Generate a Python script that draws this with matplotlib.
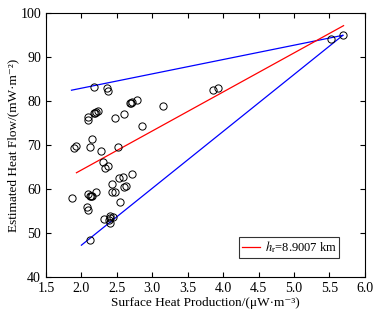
import matplotlib
matplotlib.use('Agg')
import matplotlib.pyplot as plt
import numpy as np

plt.rcParams['font.family'] = ['Liberation Serif', 'DejaVu Serif']
plt.rcParams['mathtext.fontset'] = 'stix'

# surface heat production (uW/m3) vs estimated heat flow (mW/m2)
hp = [2.18, 2.36, 2.38, 2.09, 2.09, 2.18, 2.21, 2.24, 2.19, 2.47, 2.60,
      2.70, 2.71, 2.69, 2.78, 2.85, 3.15, 1.90, 1.92, 2.15, 2.12, 2.28,
      2.51, 3.86, 3.93, 5.52, 5.69,
      2.30, 2.37, 2.34, 2.53, 2.59, 2.71, 2.43, 2.60, 2.63, 2.43, 2.48,
      2.21, 2.10, 2.13, 2.15, 2.12, 1.87, 2.54, 2.08, 2.10, 2.32, 2.39,
      2.41, 2.40, 2.44, 2.41, 2.12]
q = [83.3, 83.1, 82.4, 76.3, 75.7, 77.2, 77.5, 77.7, 77.4, 76.1, 77.0,
     79.6, 79.8, 79.5, 80.3, 74.3, 78.9, 69.3, 69.9, 71.4, 69.5, 68.6,
     69.6, 82.5, 82.9, 94.2, 95.1,
     66.1, 65.3, 64.7, 62.6, 62.8, 63.3, 61.2, 60.4, 60.7, 59.4, 59.4,
     59.4, 58.8, 58.4, 58.4, 58.4, 58.0, 57.0, 55.9, 55.1, 53.2, 52.9,
     53.8, 53.4, 53.7, 52.3, 48.4]

# bounding lines and fit
upper_x = [1.86, 5.69]
upper_y = [82.5, 95.0]
lower_x = [2.00, 5.69]
lower_y = [47.2, 95.0]
fit_x = [1.93, 5.70]
fit_y = [63.7, 97.2]

fig = plt.figure(figsize=(3.8, 3.11), dpi=100)
ax = fig.add_axes([0.121, 0.110, 0.839, 0.847])

ax.plot(upper_x, upper_y, color='#0000ff', lw=0.9)
ax.plot(lower_x, lower_y, color='#0000ff', lw=0.9)
ax.plot(fit_x, fit_y, color='#ff0000', lw=0.9, label=r'$h_\mathrm{r}$=8.9007 km')
ax.plot(hp, q, 'o', mfc='none', mec='black', ms=5.2, mew=0.7)

ax.set_xlim(1.5, 6.0)
ax.set_ylim(40, 100)
ax.set_xticks(np.arange(1.5, 6.01, 0.5))
ax.set_yticks(np.arange(40, 101, 10))
ax.xaxis.set_major_formatter(matplotlib.ticker.FormatStrFormatter('%.1f'))
ax.tick_params(direction='in', top=True, right=True, labelsize=10, length=3.5, width=0.8)
for s in ax.spines.values():
    s.set_linewidth(0.8)

ax.set_xlabel('Surface Heat Production/(μW·m⁻³)', fontsize=9.5, labelpad=2)
ax.set_ylabel('Estimated Heat Flow/(mW·m⁻²)', fontsize=9.5, labelpad=1)

leg = ax.legend(loc='lower right', bbox_to_anchor=(0.92, 0.072), fontsize=9,
                frameon=True, fancybox=False, edgecolor='black', handlelength=1.5,
                borderpad=0.2, handletextpad=0.35, borderaxespad=0)
leg.get_frame().set_linewidth(0.8)

fig.savefig('out.png', dpi=100)
